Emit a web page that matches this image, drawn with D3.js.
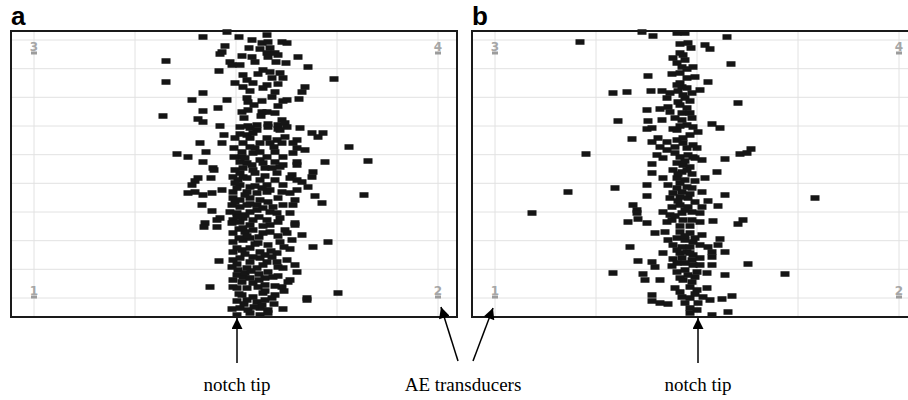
<!DOCTYPE html>
<meta charset="utf-8">
<title>AE event locations</title>
<style>
body { margin: 0; background: #fff; }
svg { display: block; }
.grid line { stroke: #e2e2e2; stroke-width: 1; }
.frame { fill: none; stroke: #1a1a1a; stroke-width: 2; }
.ev { fill: #151515; }
.tlabel { font-family: "DejaVu Sans", sans-serif; font-size: 12px; font-weight: bold; fill: #a6a6a6; }
.tbar { fill: #9c9c9c; }
.panel-id { font-family: "Liberation Sans", Arial, sans-serif; font-size: 26px; font-weight: bold; }
.note { font-family: "Liberation Serif", "Times New Roman", serif; font-size: 19px; }
</style>
<body>
<script src="https://d3js.org/d3.v7.min.js"></script>
<script>

var width = 908, height = 400;

// specimen coordinates, transducer 1 at the origin
var gridX = [0, 101, 202, 303, 404];
var gridY = [0, 28.7, 57.3, 86, 114.7, 143.3, 172, 200.7, 229.3, 258];
var transducers = [
  {id: "1", x: 0, y: 0}, {id: "2", x: 404, y: 0},
  {id: "3", x: 0, y: 258}, {id: "4", x: 404, y: 258}
];
var notchX = 203;

// located AE events, panel a
var eventsA = [
  [169,261],[193,266],[205,261],[218,258],[233,263],[228,255],[234,256],[248,256],[253,255],[191,252],
  [188,246],[186,244],[215,250],[226,249],[236,250],[233,245],[241,245],[244,243],[208,242],[218,241],
  [221,236],[234,241],[242,236],[252,235],[264,241],[132,237],[196,236],[198,233],[206,233],[274,231],
  [185,227],[229,228],[236,226],[209,223],[224,224],[246,225],[249,220],[238,220],[213,218],[132,216],
  [300,219],[201,215],[219,215],[233,213],[244,214],[209,211],[216,207],[229,210],[271,211],[268,206],
  [169,205],[158,198],[193,198],[213,200],[214,196],[228,197],[238,201],[249,197],[253,198],[265,199],
  [184,190],[169,187],[208,186],[214,188],[228,186],[233,186],[244,192],[241,185],[129,182],[164,179],
  [169,176],[186,172],[206,171],[214,172],[223,173],[234,174],[244,173],[248,178],[251,175],[266,170],
  [244,169],[216,170],[223,168],[234,171],[246,168],[253,171],[278,165],[289,165],[284,161],[190,163],
  [213,163],[216,160],[219,165],[233,160],[243,158],[251,161],[263,158],[166,155],[188,155],[209,155],
  [216,151],[226,155],[236,155],[248,155],[259,155],[263,150],[271,148],[315,151],[143,144],[154,141],
  [172,146],[208,146],[208,141],[219,145],[226,146],[233,141],[241,146],[249,141],[259,145],[169,136],
  [206,136],[213,135],[226,138],[229,135],[241,136],[263,136],[291,136],[334,137],[179,130],[180,128],
  [209,130],[219,128],[231,130],[246,131],[249,133],[263,133],[206,125],[209,121],[243,125],[258,123],
  [279,126],[278,121],[164,120],[161,117],[177,120],[204,118],[213,120],[226,118],[241,118],[256,120],
  [263,118],[158,113],[206,113],[216,111],[233,113],[249,113],[268,116],[274,111],[154,105],[161,106],
  [169,103],[178,105],[188,108],[199,106],[203,110],[213,106],[223,105],[233,106],[236,108],[248,106],
  [256,105],[263,108],[281,102],[330,103],[199,100],[206,98],[216,100],[226,98],[234,96],[244,100],
  [261,98],[168,93],[198,93],[206,91],[213,93],[223,93],[239,91],[249,93],[259,93],[288,95],
  [178,87],[196,86],[203,85],[216,86],[223,88],[236,86],[243,85],[256,85],[186,80],[183,78],
  [199,78],[209,80],[219,78],[233,78],[246,80],[261,75],[171,75],[170,71],[183,71],[198,75],
  [206,76],[216,73],[236,73],[244,76],[251,68],[261,73],[199,65],[211,66],[219,68],[229,65],
  [253,65],[268,63],[199,56],[209,58],[216,60],[224,55],[234,53],[246,56],[258,58],[279,51],
  [294,56],[199,46],[208,48],[216,50],[226,46],[231,43],[243,45],[256,49],[185,37],[199,38],
  [206,40],[216,36],[226,40],[233,36],[243,36],[253,38],[261,33],[263,26],[198,31],[204,28],
  [213,30],[223,30],[234,26],[244,31],[249,30],[203,23],[209,21],[216,20],[231,20],[239,21],
  [254,16],[256,18],[176,11],[199,11],[203,10],[213,10],[224,11],[231,13],[248,11],[250,7],
  [273,0],[273,-2],[304,5],[208,3],[219,1],[229,5],[238,0],[241,3],[213,-2],[223,-4],
  [231,-2],[198,-11],[206,-10],[214,-12],[226,-10],[234,-12],[249,-11],[203,-17],[216,-15],[226,-17],
  [234,-15],
  // dense core near the notch line
  [201,160],[221,150],[211,140],[201,128],[221,125],[201,115],[231,122],[211,103],[221,112],[201,96],
  [229,90],[211,83],[225,81],[205,69],[229,72],[213,62],[205,60],[225,61],[203,50],[221,54],
  [211,44],[237,47],[203,34],[219,41],[229,33],[211,25],[225,24],[199,18],[219,15],[241,12],
  [205,4],[228,-7],[220,-9],[210,-6],[240,-6],[208,16],[225,18],[200,141],[200,150],[203,81],
  [244,62],[238,41],[250,51],[240,151],[206,164],[199,121],[218,133],[238,130],[228,110],[216,94],
  [209,70],[236,66],[217,27],[231,7],[203,-3],[244,22],[210,180],[227,182],[220,193],[241,206]
];

// located AE events, panel b
var eventsB = [
  [85,256],[147,266],[158,262],[182,265],[190,265],[232,261],[185,254],[193,255],[196,250],[210,253],
  [215,249],[185,245],[178,240],[182,235],[190,238],[187,231],[236,234],[198,231],[153,222],[177,224],
  [185,225],[192,220],[200,221],[213,216],[182,213],[187,211],[197,205],[205,208],[118,205],[132,206],
  [156,207],[167,207],[175,205],[172,200],[183,196],[190,200],[243,195],[152,188],[165,189],[173,191],
  [185,193],[192,190],[175,186],[187,185],[123,177],[153,177],[167,178],[187,178],[197,180],[192,173],
  [198,171],[217,174],[225,170],[152,169],[178,169],[157,170],[182,168],[203,166],[137,159],[157,156],
  [163,160],[172,156],[182,158],[188,155],[198,153],[165,151],[172,148],[180,151],[192,150],[202,150],
  [91,144],[162,143],[168,140],[185,141],[193,143],[198,141],[207,138],[230,139],[245,144],[252,145],
  [256,149],[157,134],[182,135],[188,133],[195,131],[178,128],[187,126],[197,124],[157,125],[222,126],
  [168,120],[182,120],[190,118],[210,120],[152,113],[120,110],[173,113],[182,110],[192,111],[197,110],
  [73,106],[178,105],[187,106],[207,106],[152,102],[175,100],[185,101],[193,100],[230,103],[320,100],
  [213,97],[138,93],[142,88],[177,91],[185,93],[193,91],[207,91],[223,92],[37,85],[142,85],
  [168,86],[175,83],[187,85],[197,86],[205,85],[143,79],[133,76],[152,75],[172,76],[177,78],
  [188,78],[197,78],[205,76],[218,77],[248,78],[243,74],[160,65],[170,66],[185,66],[195,65],
  [207,63],[173,58],[182,60],[190,58],[198,56],[225,59],[178,53],[187,51],[195,51],[205,53],
  [213,51],[223,53],[135,51],[168,45],[185,45],[192,46],[198,43],[217,41],[217,46],[230,46],
  [178,39],[187,40],[197,38],[205,40],[143,37],[157,36],[160,31],[182,35],[198,33],[205,33],
  [217,33],[253,34],[182,26],[190,28],[202,26],[212,25],[118,25],[148,24],[230,23],[290,24],
  [150,18],[165,18],[188,18],[197,16],[195,11],[202,8],[212,10],[157,3],[157,-3],[165,-5],
  [173,-6],[187,1],[195,0],[208,1],[215,-2],[227,-1],[237,2],[195,-10],[202,-12],[195,-15],
  [217,-17],[233,-14],
  // dense core near the notch line
  [185,215],[192,210],[188,203],[195,197],[180,180],[195,185],[185,172],[195,163],[188,160],[180,145],
  [190,137],[200,140],[183,124],[192,128],[200,117],[185,115],[195,104],[200,96],[183,97],[190,88],
  [180,82],[195,72],[185,72],[190,62],[200,60],[182,48],[195,45],[190,35],[200,21],[185,20],
  [193,23],[200,4],[190,-5],[185,6],[203,-5],[177,32],[180,10],[188,243],[192,229],[183,207]
];

var panels = [
  {id: "a", left: 11, events: eventsA},
  {id: "b", left: 472, events: eventsB}
];

var frameW = 446, frameH = 286, frameTop = 31;

var x = d3.scaleLinear().domain([0, 404]).range([23, 427]);
var y = d3.scaleLinear().domain([0, 258]).range([267, 9]);

var svg = d3.select("body").append("svg")
    .attr("width", width)
    .attr("height", height);

svg.append("defs").append("marker")
    .attr("id", "head")
    .attr("viewBox", "0 0 10 10")
    .attr("refX", 10).attr("refY", 5)
    .attr("markerWidth", 13).attr("markerHeight", 11)
    .attr("markerUnits", "userSpaceOnUse")
    .attr("orient", "auto")
  .append("path")
    .attr("d", "M0,0L10,5L0,10z");

panels.forEach(function(p) {
  var g = svg.append("g")
      .attr("transform", "translate(" + p.left + "," + frameTop + ")");

  var grid = g.append("g").attr("class", "grid");
  grid.selectAll(".gx")
      .data(gridX)
    .enter().append("line")
      .attr("x1", function(d) { return x(d); })
      .attr("x2", function(d) { return x(d); })
      .attr("y1", 0).attr("y2", frameH);
  grid.selectAll(".gy")
      .data(gridY)
    .enter().append("line")
      .attr("y1", function(d) { return y(d); })
      .attr("y2", function(d) { return y(d); })
      .attr("x1", 0).attr("x2", frameW);

  // transducer symbols
  var t = g.selectAll(".tr")
      .data(transducers)
    .enter().append("g")
      .attr("transform", function(d) {
        var off = d.y > 0 ? 13 : -1;   // top ones sit below their grid line
        return "translate(" + x(d.x) + "," + (y(d.y) + off) + ")";
      });
  t.append("rect")
      .attr("class", "tbar")
      .attr("x", -3).attr("y", -1.5)
      .attr("width", 6).attr("height", 3);
  t.append("text")
      .attr("class", "tlabel")
      .attr("text-anchor", "middle")
      .attr("y", -2.5)
      .text(function(d) { return d.id; });

  g.selectAll(".ev")
      .data(p.events)
    .enter().append("rect")
      .attr("class", "ev")
      .attr("x", function(d) { return x(d[0]) - 4.5; })
      .attr("y", function(d) { return y(d[1]) - 2.75; })
      .attr("width", 9)
      .attr("height", 5.5);

  g.append("rect")
      .attr("class", "frame")
      .attr("width", frameW)
      .attr("height", frameH);

  svg.append("text")
      .attr("class", "panel-id")
      .attr("x", p.left)
      .attr("y", 25)
      .text(p.id);

  // notch tip arrow
  var nx = p.left + x(notchX);
  svg.append("line")
      .attr("x1", nx).attr("y1", 363)
      .attr("x2", nx).attr("y2", frameTop + frameH + 1)
      .attr("stroke", "#000").attr("stroke-width", 1.5)
      .attr("marker-end", "url(#head)");
  svg.append("text")
      .attr("class", "note")
      .attr("x", nx)
      .attr("y", 391)
      .attr("text-anchor", "middle")
      .text("notch tip");
});

// arrows to transducer 2 (panel a) and transducer 1 (panel b)
var tipA = [panels[0].left + x(404) + 3, frameTop + y(0) + 9];
var tipB = [panels[1].left + x(0) - 2, frameTop + y(0) + 10];
[[458, 361, tipA], [473, 361, tipB]].forEach(function(a) {
  svg.append("line")
      .attr("x1", a[0]).attr("y1", a[1])
      .attr("x2", a[2][0]).attr("y2", a[2][1])
      .attr("stroke", "#000").attr("stroke-width", 1.5)
      .attr("marker-end", "url(#head)");
});
svg.append("text")
    .attr("class", "note")
    .attr("x", 463)
    .attr("y", 391)
    .attr("text-anchor", "middle")
    .text("AE transducers");

</script>
